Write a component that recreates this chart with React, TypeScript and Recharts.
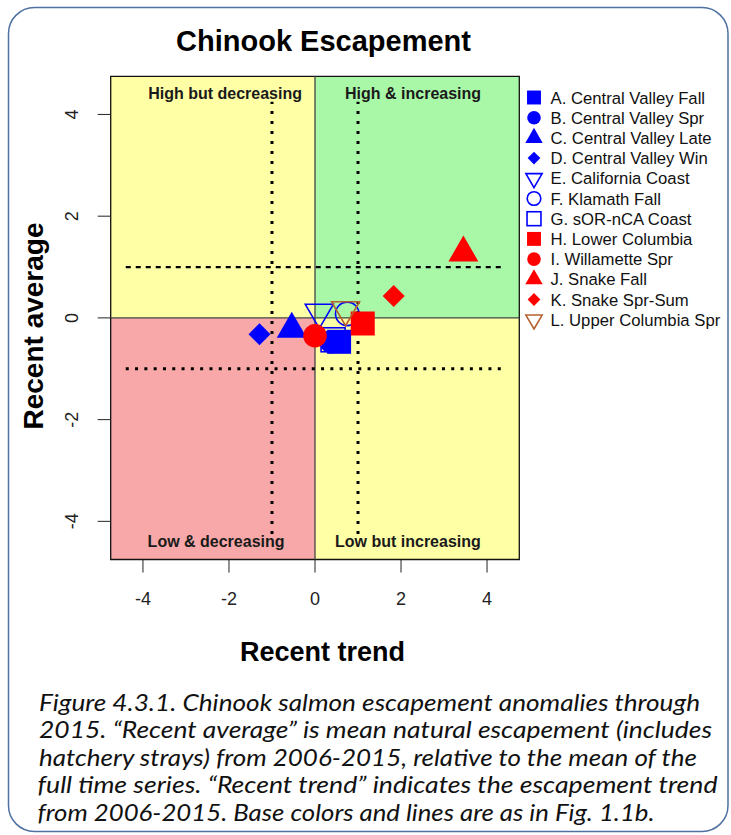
import React from 'react';
import { ScatterChart, Scatter, XAxis, YAxis, ReferenceArea, ReferenceLine } from 'recharts';

// ---------- data ----------
const stockCodes = ['A', 'B', 'C', 'D', 'E', 'F', 'G', 'H', 'I', 'J', 'K', 'L'];
const stockNames = [
  'Central Valley Fall',
  'Central Valley Spr',
  'Central Valley Late',
  'Central Valley Win',
  'California Coast',
  'Klamath Fall',
  'sOR-nCA Coast',
  'Lower Columbia',
  'Willamette Spr',
  'Snake Fall',
  'Snake Spr-Sum',
  'Upper Columbia Spr',
];
const recentTrend = [0.56, 0.38, -0.54, -1.29, 0.1, 0.75, 0.42, 1.11, 0.0, 3.45, 1.83, 0.71];
const recentAverage = [-0.47, -0.47, -0.22, -0.32, 0.11, 0.08, -0.43, -0.11, -0.35, 1.28, 0.43, 0.16];
const markerKinds = [
  'square', 'circle', 'triangle', 'diamond', 'triangleDownOpen', 'circleOpen', 'squareOpen',
  'square', 'circle', 'triangle', 'diamond', 'triangleDownOpen',
];
const markerColors = [
  '#0000FF', '#0000FF', '#0000FF', '#0000FF', '#0000FF', '#0000FF', '#0000FF',
  '#FF0000', '#FF0000', '#FF0000', '#FF0000', '#B4602E',
];

const axisTicks = [-4, -2, 0, 2, 4];
const axisDomain: [number, number] = [-4.75, 4.75];

const quadrantLabels = ['High but decreasing', 'High & increasing', 'Low & decreasing', 'Low but increasing'];
const quadrantLabelX = [-2.09, 2.28, -2.3, 2.16];
const quadrantLabelY = [4.41, 4.41, -4.39, -4.39];

const thresholds = [-1, 1];
const verticalGuideExtent = 4.25;
const horizontalGuideExtent = 4.4;

const captionLines = [
  'Figure 4.3.1. Chinook salmon escapement anomalies through',
  '2015. \u201CRecent average\u201D is mean natural escapement (includes',
  'hatchery strays) from 2006-2015, relative to the mean of the',
  'full time series. \u201CRecent trend\u201D indicates the escapement trend',
  'from 2006-2015. Base colors and lines are as in Fig. 1.1b.',
];
const captionLineWidths = [661, 673, 658, 680, 617];

const FONT = '"Liberation Sans", Arial, sans-serif';

// ---------- marker drawing ----------
function drawMarker(kind: string, color: string, cx: number, cy: number, k: number, key?: string) {
  const sq = 24 * k;
  const cd = 23.5 * k;
  const tw = 30 * k;
  const th = tw * 0.866;
  const dw = 28 * k;
  const dh = 24 * k;
  const dm = 11 * k;
  const sw = 1.6;
  switch (kind) {
    case 'square':
      return <rect key={key} x={cx - sq / 2} y={cy - sq / 2} width={sq} height={sq} fill={color} />;
    case 'squareOpen':
      return <rect key={key} x={cx - sq / 2} y={cy - sq / 2} width={sq} height={sq} fill="none" stroke={color} strokeWidth={sw} />;
    case 'circle':
      return <circle key={key} cx={cx} cy={cy} r={cd / 2} fill={color} />;
    case 'circleOpen':
      return <circle key={key} cx={cx} cy={cy} r={cd / 2} fill="none" stroke={color} strokeWidth={sw} />;
    case 'triangle':
      return (
        <polygon
          key={key}
          points={`${cx},${cy - (2 * th) / 3} ${cx + tw / 2},${cy + th / 3} ${cx - tw / 2},${cy + th / 3}`}
          fill={color}
        />
      );
    case 'triangleDownOpen':
      return (
        <polygon
          key={key}
          points={`${cx},${cy + (2 * dh) / 3} ${cx + dw / 2},${cy - dh / 3} ${cx - dw / 2},${cy - dh / 3}`}
          fill="none"
          stroke={color}
          strokeWidth={sw}
        />
      );
    case 'diamond':
      return (
        <polygon
          key={key}
          points={`${cx},${cy - dm} ${cx + dm},${cy} ${cx},${cy + dm} ${cx - dm},${cy}`}
          fill={color}
        />
      );
    default:
      return null;
  }
}

const seriesData = stockCodes.map((c, i) => ({
  code: c,
  name: stockNames[i],
  kind: markerKinds[i],
  color: markerColors[i],
  points: [{ x: recentTrend[i], y: recentAverage[i] }],
}));

const labelData = quadrantLabels.map((t, i) => ({ x: quadrantLabelX[i], y: quadrantLabelY[i], text: t }));

const YTick = (props: any) => {
  const { x, y, payload } = props;
  return (
    <text
      x={x}
      y={y}
      transform={`rotate(-90 ${x} ${y})`}
      textAnchor="middle"
      dy="0.35em"
      fontSize={18}
      fontFamily={FONT}
      fill="#222"
    >
      {String(payload.value)}
    </text>
  );
};

const Legend = () => (
  <svg
    width={731}
    height={835}
    style={{ position: 'absolute', left: 0, top: 0, pointerEvents: 'none' }}
  >
    {seriesData.map((s, i) => {
      const cy = 97.5 + i * 20.2;
      return (
        <g key={s.code}>
          {drawMarker(s.kind, s.color, 534, cy, 0.58)}
          <text x={550.5} y={cy} dy="0.36em" fontSize={16.7} fontFamily={FONT} fill="#111">
            {`${s.code}. ${s.name}`}
          </text>
        </g>
      );
    })}
  </svg>
);

const Overlay = () => (
  <svg width={731} height={835} style={{ position: 'absolute', left: 0, top: 0, pointerEvents: 'none' }}>
    <rect x={8.5} y={7.5} width={719.5} height={824} rx={26} ry={26} fill="none" stroke="#4F71A2" strokeWidth={1.5} />
    <text x={323.5} y={41} dy="0.36em" textAnchor="middle" fontSize={29} fontWeight="bold" fontFamily={FONT} fill="#000">
      Chinook Escapement
    </text>
    <text x={322.5} y={651.5} dy="0.36em" textAnchor="middle" fontSize={27} fontWeight="bold" fontFamily={FONT} fill="#000">
      Recent trend
    </text>
    <text
      x={33}
      y={326}
      transform="rotate(-90 33 326)"
      dy="0.36em"
      textAnchor="middle"
      fontSize={28}
      fontWeight="bold"
      fontFamily={FONT}
      fill="#000"
    >
      Recent average
    </text>
    {captionLines.map((line, i) => (
      <text
        key={i}
        x={i >= 3 ? 37.5 : 39}
        y={702 + i * 27.5}
        dy="0.36em"
        fontSize={24}
        fontStyle="italic"
        fontFamily='Lato, "Open Sans", sans-serif'
        fill="#111"
        textLength={captionLineWidths[i]}
        lengthAdjust="spacingAndGlyphs"
      >
        {line}
      </text>
    ))}
  </svg>
);

export default function App() {
  return (
    <div style={{ position: 'absolute', left: 0, top: 0, width: 731, height: 835, background: '#fff' }}>
      <ScatterChart
        width={731}
        height={835}
        margin={{ top: 76.3, right: 211.7, bottom: 215.5, left: 50.7 }}
      >
        <XAxis
          type="number"
          dataKey="x"
          domain={axisDomain}
          ticks={axisTicks}
          allowDataOverflow
          axisLine={false}
          tickSize={13}
          tickMargin={20}
          height={60}
          tickLine={{ stroke: '#222' }}
          tick={{ fill: '#222', fontSize: 18, fontFamily: FONT }}
        />
        <YAxis
          type="number"
          dataKey="y"
          domain={axisDomain}
          ticks={axisTicks}
          allowDataOverflow
          axisLine={false}
          tickSize={13}
          tickMargin={26}
          width={60}
          tickLine={{ stroke: '#222' }}
          tick={<YTick />}
        />
        <ReferenceArea x1={axisDomain[0]} x2={0} y1={0} y2={axisDomain[1]} fill="#FFFFA6" fillOpacity={1} stroke="none" />
        <ReferenceArea x1={0} x2={axisDomain[1]} y1={0} y2={axisDomain[1]} fill="#A8F8A8" fillOpacity={1} stroke="none" />
        <ReferenceArea x1={axisDomain[0]} x2={0} y1={axisDomain[0]} y2={0} fill="#F8A8A8" fillOpacity={1} stroke="none" />
        <ReferenceArea x1={0} x2={axisDomain[1]} y1={axisDomain[0]} y2={0} fill="#FFFFA6" fillOpacity={1} stroke="none" />
        <ReferenceLine x={0} stroke="#444" strokeWidth={1.3} />
        <ReferenceLine y={0} stroke="#444" strokeWidth={1.3} />
        <ReferenceArea
          x1={axisDomain[0]}
          x2={axisDomain[1]}
          y1={axisDomain[0]}
          y2={axisDomain[1]}
          fill="none"
          stroke="#111"
          strokeWidth={1.3}
        />
        {thresholds.map((t) => (
          <ReferenceLine
            key={`v${t}`}
            segment={[
              { x: t, y: -verticalGuideExtent },
              { x: t, y: verticalGuideExtent },
            ]}
            stroke="#000"
            strokeWidth={3}
            strokeDasharray="3 7"
          />
        ))}
        <ReferenceLine
          segment={[
            { x: -horizontalGuideExtent, y: thresholds[1] },
            { x: horizontalGuideExtent, y: thresholds[1] },
          ]}
          stroke="#000"
          strokeWidth={2.2}
          strokeDasharray="5 5"
        />
        <ReferenceLine
          segment={[
            { x: -horizontalGuideExtent, y: thresholds[0] },
            { x: horizontalGuideExtent, y: thresholds[0] },
          ]}
          stroke="#000"
          strokeWidth={3}
          strokeDasharray="3 6.3"
        />
        <Scatter
          data={labelData}
          isAnimationActive={false}
          shape={(p: any) => (
            <text
              x={p.cx}
              y={p.cy}
              dy="0.36em"
              textAnchor="middle"
              fontSize={16}
              fontWeight="bold"
              fontFamily={FONT}
              fill="#1a1a1a"
            >
              {p.payload.text}
            </text>
          )}
        />
        {seriesData.map((s) => (
          <Scatter
            key={s.code}
            name={s.name}
            data={s.points}
            isAnimationActive={false}
            shape={(p: any) => drawMarker(s.kind, s.color, p.cx, p.cy, 1)}
          />
        ))}
      </ScatterChart>
      <Legend />
      <Overlay />
    </div>
  );
}
